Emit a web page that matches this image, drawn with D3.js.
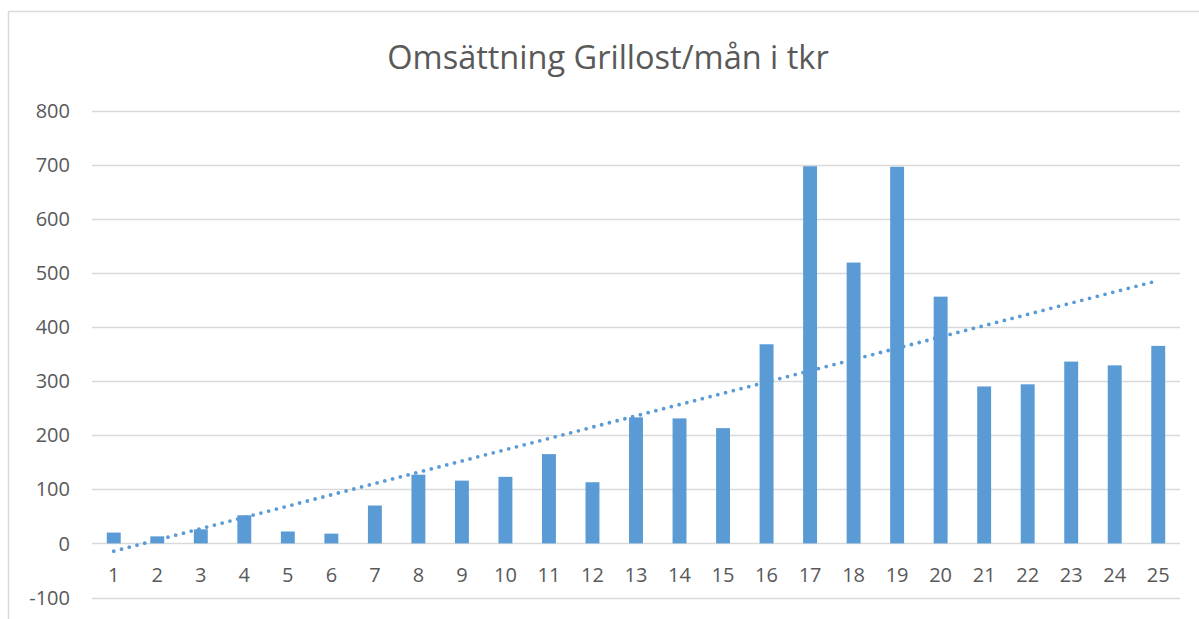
<!DOCTYPE html>
<html>
<head>
<meta charset="utf-8">
<title>Omsättning Grillost</title>
<script src="https://cdn.jsdelivr.net/npm/d3@7"></script>
<style>
  body { margin: 0; background: #fff; }
  svg { display: block; font-family: "Open Sans", "Noto Sans", sans-serif; }
</style>
</head>
<body>
<div id="chart"></div>
<script>
// months 1..25 and revenue (tkr)
var months = d3.range(1, 26).map(String);
var revenue = [20, 13, 26, 52, 22, 18, 70, 127, 116, 123, 165, 113, 233, 231, 213,
               368, 697, 519, 696, 456, 290, 294, 336, 329, 365];
var yTicks = [-100, 0, 100, 200, 300, 400, 500, 600, 700, 800];
var title = "Omsättning Grillost/mån i tkr";

var width = 1199, height = 619;
var blue = "#5B9BD5", grid = "#D9D9D9", textCol = "#595959";

var svg = d3.select("#chart").append("svg")
    .attr("width", width)
    .attr("height", height);

// chart frame (only top/left visible in the crop)
svg.append("rect")
    .attr("x", 8.5).attr("y", 11.5)
    .attr("width", 1220).attr("height", 640)
    .attr("fill", "none")
    .attr("stroke", grid)
    .attr("stroke-width", 1.5);

var plot = { left: 92, right: 1180, top: 110, bottom: 597 };

var x = d3.scaleBand()
    .domain(months)
    .range([plot.left, plot.right])
    .paddingInner(0.68)
    .paddingOuter(0.34);

var y = d3.scaleLinear()
    .domain([-100, 800])
    .range([597.5, 110.5]);

// gridlines
svg.append("g")
    .selectAll("line")
    .data(yTicks)
    .join("line")
    .attr("x1", plot.left).attr("x2", plot.right)
    .attr("y1", d => Math.round(y(d)) + 0.5)
    .attr("y2", d => Math.round(y(d)) + 0.5)
    .attr("stroke", grid)
    .attr("stroke-width", 1.3);

// y labels
svg.append("g")
    .selectAll("text")
    .data(yTicks)
    .join("text")
    .attr("x", 70)
    .attr("y", d => y(d))
    .attr("dy", "0.36em")
    .attr("text-anchor", "end")
    .attr("fill", textCol)
    .attr("font-size", 20)
    .text(d => d);

// bars
svg.append("g")
    .selectAll("rect")
    .data(revenue)
    .join("rect")
    .attr("x", (d, i) => x(months[i]))
    .attr("width", x.bandwidth())
    .attr("y", d => y(d))
    .attr("height", d => y(0) - y(d))
    .attr("fill", blue);

// x labels
svg.append("g")
    .selectAll("text")
    .data(months)
    .join("text")
    .attr("x", d => x(d) + x.bandwidth() / 2)
    .attr("y", 575)
    .attr("dy", "0.36em")
    .attr("text-anchor", "middle")
    .attr("fill", textCol)
    .attr("font-size", 20)
    .text(d => d);

// linear trendline (least squares, like Excel)
var xs = revenue.map((d, i) => i + 1);
var mx = d3.mean(xs), my = d3.mean(revenue);
var sxy = d3.sum(xs, (v, i) => (v - mx) * (revenue[i] - my));
var sxx = d3.sum(xs, v => (v - mx) * (v - mx));
var slope = sxy / sxx, icpt = my - slope * mx;

var xCenter = n => x(String(n)) + x.bandwidth() / 2;
svg.append("line")
    .attr("x1", xCenter(1)).attr("y1", y(icpt + slope * 1))
    .attr("x2", xCenter(25)).attr("y2", y(icpt + slope * 25))
    .attr("stroke", blue)
    .attr("stroke-width", 3.8)
    .attr("stroke-linecap", "round")
    .attr("stroke-dasharray", "0 8");

// title
svg.append("text")
    .attr("x", 608)
    .attr("y", 69)
    .attr("text-anchor", "middle")
    .attr("fill", textCol)
    .attr("font-size", 32.5)
    .text(title);
</script>
</body>
</html>
